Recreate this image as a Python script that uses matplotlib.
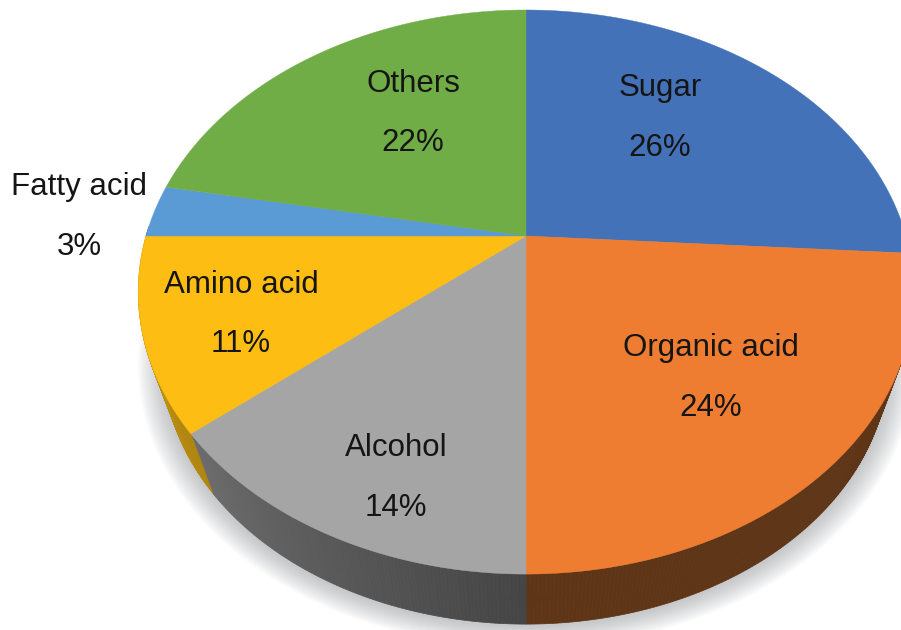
import numpy as np
import matplotlib
matplotlib.use('Agg')
import matplotlib.pyplot as plt
from matplotlib.colors import to_rgb
from matplotlib.patches import Polygon

labels = ['Sugar', 'Organic acid', 'Alcohol', 'Amino acid', 'Fatty acid', 'Others']
values = [26, 24, 14, 11, 3, 22]

colors = ['#4472B8', '#EE7D31', '#A5A5A5', '#FDBD13', '#5B9BD5', '#70AD47']
wall_left = ['#2F4F80', '#5E3517', '#454545', '#B08510', '#3F6C95', '#4E7931']
wall_right = ['#2F4F80', '#5E3517', '#6C6C6C', '#C99A18', '#3F6C95', '#4E7931']

# label centres in pixels (name, percent)
label_pos = [(660, 88, 148), (711, 348, 408), (396, 448, 508),
             (241, 285, 344), (79, 187, 247), (413, 84, 143)]

# perspective of the tilted disc
cx, cy = 526, 236
rx, ry, k = 380, 270.9, 0.1987
depth, shrink = 72, 0.935


def project(ang, bottom=False):
    # ang in degrees, clockwise from the top
    a = np.radians(ang)
    w = 1 + k * np.cos(a)
    x = rx * np.sin(a) / w
    y = -ry * np.cos(a) / w
    if bottom:
        return cx + shrink * x, cy + depth + shrink * y
    return cx + x, cy + y


fig = plt.figure(figsize=(9.01, 6.30), dpi=100)
ax = fig.add_axes([0, 0, 1, 1])
ax.set_xlim(0, 901)
ax.set_ylim(630, 0)
ax.axis('off')

# soft shadow under the pie
t = np.linspace(0, 360, 361)
bx, by = project(t, bottom=True)
for i in range(14, 0, -1):
    g = 1 + i * 0.005
    sx = cx + (bx - cx) * g
    sy = cy + depth + (by - cy - depth) * g + 1
    ax.add_patch(Polygon(np.column_stack([sx, sy]), closed=True, fc='#7A7F84',
                         ec='none', alpha=0.035, zorder=1))

edges = np.concatenate([[0], np.cumsum(values)]) * 3.6

# side walls, only the front half shows
for i in range(len(values)):
    a0 = max(edges[i], 90)
    a1 = min(edges[i + 1], 272)
    if a1 <= a0:
        continue
    steps = np.linspace(a0, a1, int((a1 - a0) * 2) + 2)
    c0, c1 = np.array(to_rgb(wall_left[i])), np.array(to_rgb(wall_right[i]))
    for j in range(len(steps) - 1):
        seg = np.linspace(steps[j], steps[j + 1], 2)
        tx, ty = project(seg)
        ux, uy = project(seg, bottom=True)
        f = (steps[j] - a0) / (a1 - a0)
        pts = np.column_stack([np.r_[tx, ux[::-1]], np.r_[ty, uy[::-1]]])
        c = c0 + (c1 - c0) * f
        ax.add_patch(Polygon(pts, closed=True, fc=c, ec=c, lw=0.5, zorder=2))

# top face
for i in range(len(values)):
    seg = np.linspace(edges[i], edges[i + 1], 200)
    tx, ty = project(seg)
    pts = np.column_stack([np.r_[cx, tx], np.r_[cy, ty]])
    ax.add_patch(Polygon(pts, closed=True, fc=colors[i], ec=colors[i], lw=0.3, zorder=3))

for name, v, (x, y1, y2) in zip(labels, values, label_pos):
    ax.text(x, y1, name, ha='center', va='center', fontsize=22.5, color='#151515',
            family='Liberation Sans', zorder=4)
    ax.text(x, y2, f'{v}%', ha='center', va='center', fontsize=22.5, color='#151515',
            family='Liberation Sans', zorder=4)

fig.savefig('out.png', dpi=100)
